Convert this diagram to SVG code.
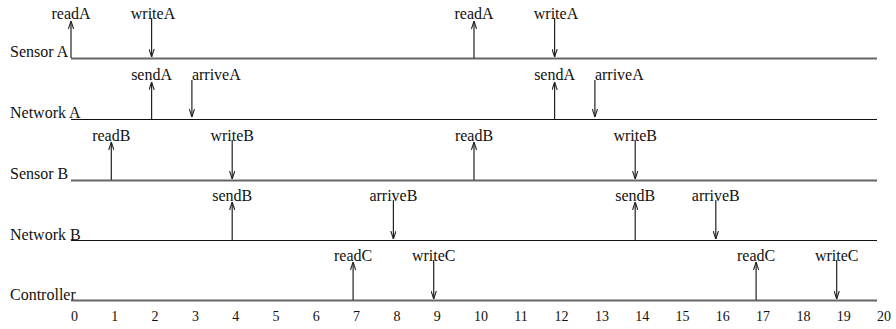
<svg xmlns="http://www.w3.org/2000/svg" width="896" height="329" viewBox="0 0 896 329">
  <style>
    text { font-family: "Liberation Serif", "Times New Roman", serif; fill: #111; }
    .name { font-size: 16px; }
    .ev { font-size: 16px; text-anchor: middle; }
    .ev.left { text-anchor: start; }
    .tick { font-size: 14px; }
    .lane-gray { stroke: #666; stroke-width: 1.8; fill: none; }
    .lane-black { stroke: #111; stroke-width: 1.2; fill: none; }
    .arr { stroke: #222; stroke-width: 1.2; fill: none; marker-end: url(#vhead); }
  </style>
  <defs>
    <marker id="vhead" viewBox="0 0 8 6" refX="8" refY="3" markerWidth="8" markerHeight="6" markerUnits="userSpaceOnUse" orient="auto">
      <path d="M0,0.4 L8,3 L0,5.6" fill="none" stroke="#222" stroke-width="1.1"/>
    </marker>
  </defs>

  <!-- Sensor A lane -->
  <g id="sensorA">
    <text class="name" x="10" y="57">Sensor A</text>
    <line class="lane-gray" x1="71" y1="58.5" x2="877" y2="58.5"/>
    <text class="ev" x="71" y="19">readA</text>
    <text class="ev" x="153" y="19">writeA</text>
    <text class="ev" x="474" y="19">readA</text>
    <text class="ev" x="556" y="19">writeA</text>
  </g>

  <!-- Network A lane -->
  <g id="networkA">
    <text class="name" x="10" y="118">Network A</text>
    <line class="lane-black" x1="71" y1="119.5" x2="877" y2="119.5"/>
    <text class="ev" x="151.6" y="80">sendA</text>
    <text class="ev left" x="191.9" y="80">arriveA</text>
    <text class="ev" x="554.6" y="80">sendA</text>
    <text class="ev left" x="594.9" y="80">arriveA</text>
  </g>

  <!-- Sensor B lane -->
  <g id="sensorB">
    <text class="name" x="10" y="179">Sensor B</text>
    <line class="lane-gray" x1="71" y1="180.5" x2="877" y2="180.5"/>
    <text class="ev" x="111.3" y="141">readB</text>
    <text class="ev" x="232.2" y="141">writeB</text>
    <text class="ev" x="474" y="141">readB</text>
    <text class="ev" x="635.2" y="141">writeB</text>
  </g>

  <!-- Network B lane -->
  <g id="networkB">
    <text class="name" x="10" y="240">Network B</text>
    <line class="lane-black" x1="71" y1="240.5" x2="877" y2="240.5"/>
    <text class="ev" x="232.2" y="201">sendB</text>
    <text class="ev" x="393.4" y="201">arriveB</text>
    <text class="ev" x="635.2" y="201">sendB</text>
    <text class="ev" x="715.8" y="201">arriveB</text>
  </g>

  <!-- Controller lane -->
  <g id="controller">
    <text class="name" x="10" y="300">Controller</text>
    <line class="lane-gray" x1="71" y1="300.5" x2="877" y2="300.5"/>
    <text class="ev" x="353.1" y="261">readC</text>
    <text class="ev" x="433.7" y="261">writeC</text>
    <text class="ev" x="756.1" y="261">readC</text>
    <text class="ev" x="836.7" y="261">writeC</text>
  </g>

  <!-- time axis -->
  <g id="axis" class="tick">
    <text x="71" y="321">0</text>
    <text x="111.3" y="321">1</text>
    <text x="151.6" y="321">2</text>
    <text x="191.9" y="321">3</text>
    <text x="232.2" y="321">4</text>
    <text x="272.5" y="321">5</text>
    <text x="312.8" y="321">6</text>
    <text x="353.1" y="321">7</text>
    <text x="393.4" y="321">8</text>
    <text x="433.7" y="321">9</text>
    <text x="474" y="321">10</text>
    <text x="514.3" y="321">11</text>
    <text x="554.6" y="321">12</text>
    <text x="594.9" y="321">13</text>
    <text x="635.2" y="321">14</text>
    <text x="675.5" y="321">15</text>
    <text x="715.8" y="321">16</text>
    <text x="756.1" y="321">17</text>
    <text x="796.4" y="321">18</text>
    <text x="836.7" y="321">19</text>
    <text x="877" y="321">20</text>
  </g>

  <!-- event arrows: up = read/send, down = write/arrive -->
  <g id="connectors">
    <path class="arr" d="M71,58 V21"/>
    <path class="arr" d="M151.6,18 V57"/>
    <path class="arr" d="M474,58 V21"/>
    <path class="arr" d="M554.6,18 V57"/>

    <path class="arr" d="M151.6,119 V82"/>
    <path class="arr" d="M191.9,80 V117"/>
    <path class="arr" d="M554.6,119 V82"/>
    <path class="arr" d="M594.9,80 V117"/>

    <path class="arr" d="M111.3,180 V142"/>
    <path class="arr" d="M232.2,140 V179"/>
    <path class="arr" d="M474,180 V142"/>
    <path class="arr" d="M635.2,140 V179"/>

    <path class="arr" d="M232.2,240 V202"/>
    <path class="arr" d="M393.4,200 V239"/>
    <path class="arr" d="M635.2,240 V202"/>
    <path class="arr" d="M715.8,200 V239"/>

    <path class="arr" d="M353.1,300 V262"/>
    <path class="arr" d="M433.7,260 V299"/>
    <path class="arr" d="M756.1,300 V262"/>
    <path class="arr" d="M836.7,260 V299"/>
  </g>
</svg>
